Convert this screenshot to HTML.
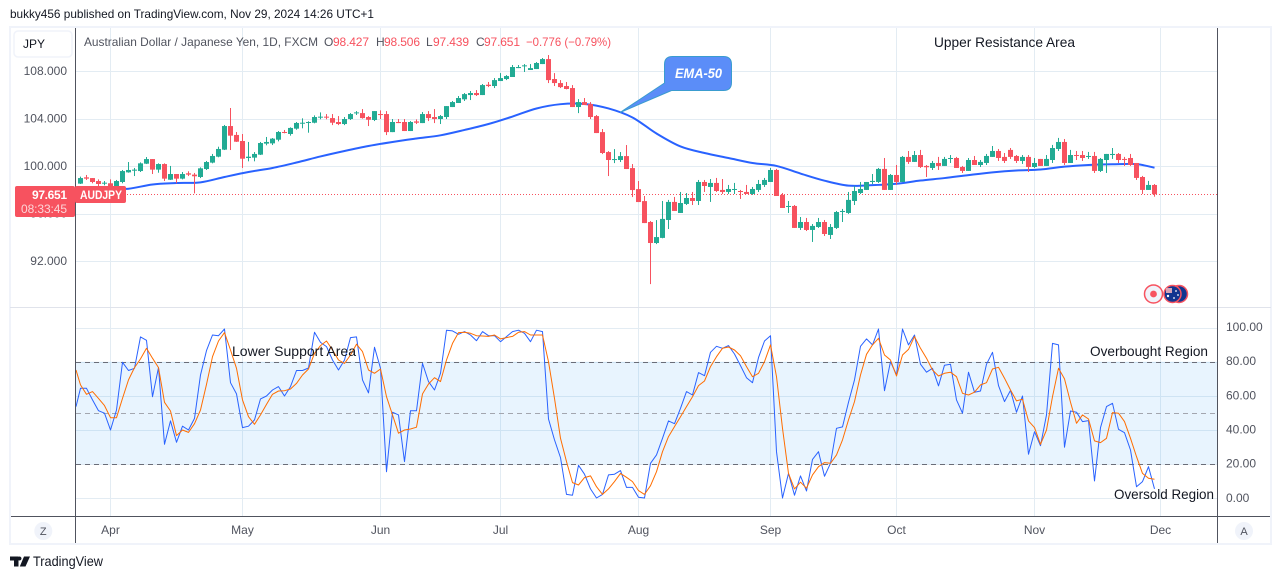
<!DOCTYPE html>
<html lang="en">
<head>
<meta charset="utf-8">
<title>AUD/JPY chart</title>
<style>
html,body{margin:0;padding:0;background:#fff;width:1281px;height:579px;overflow:hidden}
svg{display:block;font-family:"Liberation Sans",Arial,sans-serif}
</style>
</head>
<body>
<svg id="chart" xmlns="http://www.w3.org/2000/svg" width="1281" height="579" viewBox="0 0 1281 579">
  <rect x="0" y="0" width="1281" height="579" fill="#ffffff"/>
  <text x="10" y="18" font-size="12" fill="#131722" textLength="364" lengthAdjust="spacingAndGlyphs">bukky456 published on TradingView.com, Nov 29, 2024 14:26 UTC+1</text>
  <rect x="10" y="27" width="1261" height="517" fill="#ffffff" stroke="#f0f3fa" stroke-width="2"/>

  <g id="grid"></g>
  <rect id="band" x="76" width="1141" fill="#2196f3" fill-opacity="0.1"/>
  <g id="bandLines"></g>
  <g id="oscTicksG"></g>
  <g id="priceTicksG"></g>
  <line id="lastLine" x1="76" x2="1217" stroke="#f7525f" stroke-width="1" stroke-dasharray="1 2"/>
  <g id="emaG"></g>
  <g id="candles"></g>
  <g id="oscLines"></g>

  <line x1="10" x2="1271" y1="307.5" y2="307.5" stroke="#e0e3eb"/>
  <line x1="75.5" x2="75.5" y1="28" y2="543" stroke="#50535e"/>
  <line x1="1217.5" x2="1217.5" y1="28" y2="543" stroke="#50535e"/>
  <line x1="11" x2="1270" y1="516.5" y2="516.5" stroke="#50535e"/>
  <g id="timeG"></g>

  <rect x="14" y="31" width="58" height="26" rx="4" fill="#ffffff" stroke="#f0f3fa" stroke-width="1.5"/>
  <text x="23" y="48" font-size="12" fill="#131722">JPY</text>

  <text x="84" y="46" font-size="12" fill="#50535e" textLength="234" lengthAdjust="spacingAndGlyphs">Australian Dollar / Japanese Yen, 1D, FXCM</text>
  <g font-size="12">
    <text x="324" y="46" fill="#50535e">O</text>
    <text x="333" y="46" fill="#f7525f" textLength="36">98.427</text>
    <text x="376" y="46" fill="#50535e">H</text>
    <text x="384" y="46" fill="#f7525f" textLength="36">98.506</text>
    <text x="426" y="46" fill="#50535e">L</text>
    <text x="433" y="46" fill="#f7525f" textLength="36">97.439</text>
    <text x="476" y="46" fill="#50535e">C</text>
    <text x="484" y="46" fill="#f7525f" textLength="36">97.651</text>
    <text x="526" y="46" fill="#f7525f" textLength="85" lengthAdjust="spacingAndGlyphs">−0.776 (−0.79%)</text>
  </g>

  <text x="934" y="47" font-size="14" fill="#131722" textLength="141" lengthAdjust="spacingAndGlyphs">Upper Resistance Area</text>
  <text x="232" y="356" font-size="14" fill="#131722" textLength="124" lengthAdjust="spacingAndGlyphs">Lower Support Area</text>
  <text x="1090" y="356" font-size="14" fill="#131722" textLength="118" lengthAdjust="spacingAndGlyphs">Overbought Region</text>
  <text x="1114" y="499" font-size="14" fill="#131722" textLength="100" lengthAdjust="spacingAndGlyphs">Oversold Region</text>

  <g>
    <path d="M672.5 56.5H723.5Q731.5 56.5 731.5 64.5V82.5Q731.5 90.5 723.5 90.5H671.5L620 112.5L664.5 83V64.5Q664.5 56.5 672.5 56.5Z" fill="#5b8df8" stroke="#3a9ccf" stroke-width="1"/>
    <text x="675" y="78" font-size="14" font-style="italic" font-weight="bold" fill="#ffffff" textLength="47" lengthAdjust="spacingAndGlyphs">EMA-50</text>
  </g>

  <g>
    <circle cx="1179" cy="294" r="8.5" fill="#12358f" stroke="#f7525f" stroke-width="1.5"/>
    <circle cx="1172.5" cy="294" r="8.5" fill="#12358f" stroke="#f7525f" stroke-width="1.5"/>
    <rect x="1166" y="288" width="6" height="5" fill="#d9a3b5"/>
    <circle cx="1176" cy="291" r="0.9" fill="#ffffff"/>
    <circle cx="1178" cy="295" r="0.9" fill="#ffffff"/>
    <circle cx="1174" cy="298" r="0.9" fill="#ffffff"/>
    <circle cx="1168" cy="296" r="1.2" fill="#ffffff"/>
    <circle cx="1153.5" cy="294" r="9" fill="#f0f3fa" stroke="#f7525f" stroke-width="1.5"/>
    <circle cx="1153.5" cy="294" r="3.4" fill="#f7525f"/>
  </g>

  <g>
    <rect x="15" y="186" width="60" height="31" rx="2" fill="#f7525f"/>
    <rect x="75" y="186" width="51" height="17" rx="2" fill="#f7525f"/>
    <text x="67" y="199" font-size="12" font-weight="bold" fill="#ffffff" text-anchor="end" textLength="35">97.651</text>
    <text x="67" y="213" font-size="12" fill="#fcd5d8" text-anchor="end" textLength="46">08:33:45</text>
    <text x="80" y="199" font-size="11.5" font-weight="bold" fill="#ffffff" textLength="42" lengthAdjust="spacingAndGlyphs">AUDJPY</text>
  </g>

  <g>
    <circle cx="43.3" cy="531" r="9" fill="#f0f3fa"/>
    <text x="43.3" y="535" font-size="11" fill="#50535e" text-anchor="middle">Z</text>
  </g>
  <g>
    <circle cx="1244" cy="531" r="9" fill="#f0f3fa"/>
    <text x="1244" y="535" font-size="11" fill="#50535e" text-anchor="middle">A</text>
  </g>

  <g>
    <path d="M10 556.5H18.5V566.5H14V560.5H10ZM24 556.5H30L25.5 566.5H19.8ZM19.5 556.5A2 2 0 1 1 19.49 556.5Z" fill="#131722"/>
    <text x="33" y="566" font-size="14" fill="#131722" textLength="70" lengthAdjust="spacingAndGlyphs">TradingView</text>
  </g>
</svg>
<script>
const opens=[98.54,99.07,99.01,98.76,98.54,98.57,98.34,98.68,99.49,99.63,
99.60,100.22,100.61,99.72,100.19,98.87,99.35,98.96,99.41,99.30,
99.10,99.77,100.31,100.81,101.40,103.39,102.64,102.13,100.70,100.73,
100.98,101.91,101.93,102.24,102.89,102.72,103.17,103.59,103.65,103.67,
104.10,104.18,104.06,103.73,103.56,103.98,104.46,104.48,104.15,103.90,
104.40,104.40,102.88,103.73,103.73,102.97,103.78,103.64,104.40,104.15,
103.98,104.15,104.99,105.33,105.64,106.00,106.17,106.00,106.87,106.76,
107.18,107.35,107.52,108.27,108.44,108.11,108.19,108.61,109.03,107.35,
107.01,106.76,106.59,104.99,105.41,105.24,104.23,102.88,101.20,100.53,
100.53,100.86,99.85,98.08,97.07,95.31,93.54,93.97,95.48,97.00,
96.07,96.83,97.33,97.08,98.68,98.26,98.60,98.01,97.84,98.01,
97.92,97.84,97.67,98.01,98.43,98.68,99.69,97.59,96.58,96.66,
94.81,95.31,94.64,94.89,95.31,94.22,94.81,96.15,96.07,97.08,
97.75,98.01,98.68,98.68,99.78,98.01,99.27,98.68,100.79,100.37,
100.95,100.03,99.86,100.28,100.03,100.62,100.70,99.94,99.61,100.53,
100.11,100.28,100.79,101.29,100.79,101.38,100.87,100.45,100.79,99.94,
100.62,100.03,100.53,101.46,102.05,100.28,100.95,100.95,100.79,100.87,
99.61,100.53,100.95,101.04,100.62,100.70,100.28,99.10,98.01,98.427];
const highs=[99.13,99.27,99.01,98.90,98.76,98.90,98.85,99.69,100.36,99.86,
100.33,100.78,100.61,100.25,100.25,100.03,99.35,99.52,99.58,99.44,
99.91,100.45,101.04,101.65,103.48,104.91,102.89,102.72,102.05,101.20,
102.05,102.47,102.38,102.97,103.06,103.28,103.73,104.04,103.79,104.29,
104.54,104.40,104.40,104.23,104.15,104.48,104.65,104.82,104.23,104.65,
104.71,104.65,103.98,103.98,103.98,103.81,103.95,104.57,104.65,104.82,
104.32,105.07,105.50,105.92,106.17,106.34,106.42,106.93,107.10,107.43,
107.85,107.68,108.53,108.53,108.61,108.61,108.78,109.12,109.37,107.85,
107.26,107.10,106.84,105.66,105.75,105.41,104.32,103.14,101.28,101.45,
101.20,101.79,100.19,98.76,97.50,95.39,95.47,97.08,97.17,97.42,
97.84,97.75,97.84,98.85,98.85,98.93,99.02,98.93,98.43,98.60,
98.01,98.43,98.26,98.85,99.02,99.86,99.78,97.75,97.08,96.74,
95.73,95.65,95.14,95.65,95.48,95.14,96.24,96.41,97.84,98.34,
98.68,98.68,99.35,99.86,100.70,99.35,100.11,100.87,101.29,101.29,
101.38,100.11,100.45,100.79,100.79,100.95,100.79,100.03,100.70,100.87,
100.53,101.04,101.71,101.46,101.12,101.54,100.95,100.95,100.95,100.70,
100.62,100.95,101.80,102.39,102.30,101.38,101.29,101.29,101.21,101.21,
100.70,101.04,101.54,101.12,100.79,101.04,100.28,99.19,98.77,98.506];
const lows=[98.51,98.85,98.57,98.34,98.40,98.14,98.28,98.57,99.46,99.18,
99.52,100.19,99.35,99.46,98.76,98.85,98.57,98.90,99.18,97.72,
99.01,99.69,100.25,100.76,101.37,101.37,102.05,99.86,100.42,100.42,
100.95,101.77,101.79,102.10,102.78,102.58,103.08,103.20,102.83,103.62,
103.96,103.96,103.47,103.47,103.47,103.90,104.32,104.01,103.39,103.81,
103.98,102.63,102.88,103.64,102.97,102.97,103.56,103.64,103.81,103.64,
103.56,103.98,104.99,105.33,105.50,105.58,105.92,106.00,106.67,106.59,
107.18,107.26,107.52,108.27,107.94,108.11,108.19,108.61,107.01,106.76,
106.59,106.48,104.99,104.48,105.16,103.98,102.80,101.03,99.18,100.27,
100.36,99.77,97.41,96.99,95.22,90.08,93.45,93.94,94.72,96.24,
96.07,96.74,96.74,96.74,97.84,97.00,97.84,97.67,97.67,97.67,
97.25,97.67,97.59,97.84,98.26,98.68,97.50,96.49,96.07,94.81,
94.64,94.55,93.63,94.81,94.13,93.88,94.72,95.31,95.99,96.74,
97.67,98.01,98.51,98.60,98.01,98.01,98.43,98.68,100.20,100.37,
99.86,99.10,99.69,99.69,100.03,100.28,99.86,99.44,99.61,100.11,
99.94,100.11,100.79,100.45,100.28,100.62,100.28,100.20,99.52,99.86,
100.03,100.03,100.28,101.29,100.11,100.28,100.53,100.45,100.62,99.44,
99.52,99.44,100.62,100.28,100.03,100.03,98.85,97.67,98.01,97.439];
const closes=[99.01,98.96,98.68,98.51,98.62,98.34,98.76,99.60,99.69,99.72,
100.25,100.61,99.72,100.19,98.96,99.35,98.96,99.35,99.30,99.16,
99.83,100.36,100.87,101.46,103.39,102.58,102.07,100.64,100.81,101.04,
101.96,102.05,102.33,102.89,102.83,103.23,103.65,103.67,103.73,104.15,
104.18,104.12,103.67,103.56,103.98,104.40,104.54,104.06,103.92,104.65,
104.34,102.88,103.73,103.64,102.97,103.73,103.67,104.40,104.06,103.98,
104.23,105.07,105.41,105.75,106.08,106.17,106.00,106.84,106.76,107.26,
107.43,107.60,108.36,108.36,108.50,108.27,108.70,109.03,107.26,107.01,
106.67,106.51,104.99,105.41,105.16,104.15,102.80,101.12,100.53,100.61,
100.86,99.77,98.00,96.99,95.22,93.54,94.04,95.57,97.00,96.24,
96.91,97.33,97.08,98.68,98.34,98.60,97.92,97.84,98.09,98.09,
97.87,97.67,98.09,98.51,98.85,99.69,97.50,96.49,96.66,94.81,
95.31,94.64,94.98,95.31,94.30,94.89,96.15,96.24,97.17,97.92,
98.09,98.68,98.77,99.78,98.01,99.27,98.68,100.79,100.37,100.95,
99.94,99.92,100.28,100.03,100.62,100.70,99.86,99.61,100.53,100.11,
100.37,100.87,101.29,100.70,100.45,100.79,100.45,100.79,99.94,100.28,
100.03,100.62,101.54,102.05,100.28,100.95,100.90,100.70,100.87,99.61,
100.62,101.04,101.04,100.53,100.56,100.11,99.02,98.01,98.43,97.651];
const emaBars=[0,4,8,12,16,20,24,28,32,36,40,44,48,52,56,60,64,68,72,76,80,84,88,92,96,100,104,108,112,116,120,124,128,132,136,140,144,148,152,156,160,164,168,172,176,179];
const emaValues=[98.00,98.05,98.11,98.47,98.59,98.65,99.10,99.52,99.86,100.32,100.83,101.29,101.71,102.05,102.34,102.61,103.06,103.56,104.19,104.87,105.23,105.25,104.87,104.11,102.76,101.67,101.12,100.70,100.28,100.03,99.39,98.79,98.37,98.41,98.53,98.80,99.01,99.26,99.49,99.65,99.73,99.97,100.11,100.17,100.18,99.88];
const stochK=[53.7,64.4,64.4,57.6,51.3,49.8,40.0,51.7,79.6,74.8,76.1,
94.5,92.5,59.5,76.5,31.6,45.3,32.8,42.2,40.0,46.8,
72.2,86.5,95.6,95.2,99.1,67.7,61.1,41.4,42.2,45.9,
58.2,59.9,63.4,65.4,59.9,65.4,74.8,74.8,76.3,97.2,
91.3,88.8,81.0,75.1,81.0,94.1,94.5,69.3,61.7,88.4,
76.1,15.6,50.4,48.8,21.5,51.3,51.3,79.0,68.3,63.4,
73.2,98.4,98.0,96.0,97.6,95.6,92.3,97.6,95.2,95.2,
91.7,94.7,97.6,98.4,96.6,91.7,98.4,97.6,46.4,34.2,
23.8,2.3,1.8,19.3,14.1,5.5,0.2,2.3,13.7,14.1,
16.2,6.4,6.4,0.6,0.2,20.5,25.4,35.1,45.3,43.7,
52.7,62.5,60.5,73.6,71.8,85.5,89.0,87.8,89.4,84.5,
77.7,70.6,67.7,82.4,92.1,95.2,27.3,0.2,14.6,1.8,
13.1,4.3,22.8,27.3,12.9,20.5,41.0,41.8,56.2,69.3,
89.0,93.3,89.8,99.1,63.0,80.0,72.2,99.1,89.8,95.6,
78.5,73.8,76.1,65.8,77.9,78.5,57.6,49.8,73.8,62.1,
62.8,78.5,85.5,66.0,56.6,63.2,50.4,59.9,25.8,39.0,
30.8,48.8,90.7,89.8,29.9,51.1,50.4,44.9,45.5,10.1,
41.4,53.7,55.6,40.4,38.4,28.3,6.8,9.8,18.5,5.5];
const stochD=[75.1,66.4,60.9,62.5,58.5,54.3,47.2,47.2,58.5,69.3,76.5,
81.6,87.8,82.0,76.5,56.2,51.1,36.7,40.0,38.6,43.7,
51.7,66.7,82.9,92.1,97.0,86.8,76.1,57.6,47.8,43.3,
48.8,55.0,60.9,62.8,63.0,64.0,67.3,72.2,75.7,84.9,
89.4,92.1,86.8,81.0,79.0,83.9,90.2,85.9,75.1,73.2,
75.7,59.5,48.8,38.1,40.0,40.6,41.6,61.1,66.9,70.6,
68.3,81.0,90.7,97.0,97.2,96.6,95.2,95.0,94.8,95.6,
93.3,94.1,94.8,97.2,97.6,95.6,95.6,95.6,80.0,58.5,
35.1,21.5,9.2,7.8,12.1,13.1,6.8,2.3,5.5,9.8,
14.6,12.3,9.8,4.5,2.3,7.4,15.6,27.3,36.1,42.0,
47.8,53.7,59.5,66.0,68.7,77.1,82.9,87.8,88.6,86.8,
83.5,77.1,71.2,73.2,80.0,89.8,71.2,41.0,14.6,5.5,
9.4,5.9,13.7,18.5,20.9,20.5,25.4,34.2,45.9,56.6,
72.2,84.3,89.8,93.7,83.9,81.0,71.6,83.9,87.2,94.7,
87.8,82.0,75.1,71.6,73.2,73.8,71.2,61.5,60.5,62.1,
66.4,67.7,75.7,76.7,70.3,63.4,57.0,58.0,45.3,41.4,
31.6,40.0,59.5,76.1,69.9,56.2,43.9,48.8,46.4,33.6,
32.6,35.1,50.2,49.8,44.9,35.1,24.4,14.6,11.7,11.1];
const priceTicks=[108,104,100,96,92];
const oscTicks=[100,80,60,40,20,0];
const bandLevels=[80,50,20];
const monthLabels=["Apr","May","Jun","Jul","Aug","Sep","Oct","Nov","Dec"];
const monthBars=[5,27,50,70,93,115,136,159,180];
const lastPrice=97.651;

const NS="http://www.w3.org/2000/svg";
const xBar=i=>80.5+6*i;
const yPrice=p=>166.3-(p-100)*11.875;
const yOsc=v=>498.3-v*1.708;
function make(tag,attrs,parent){
  const node=document.createElementNS(NS,tag);
  for(const k in attrs){node.setAttribute(k,attrs[k]);}
  parent.appendChild(node);
  return node;
}
function smoothPath(pts){
  let d="M"+pts[0][0]+" "+pts[0][1].toFixed(2);
  for(let k=0;k<pts.length-1;k++){
    const p0=pts[k-1]||pts[k],p1=pts[k],p2=pts[k+1],p3=pts[k+2]||pts[k+1];
    const c1x=p1[0]+(p2[0]-p0[0])/6,c1y=p1[1]+(p2[1]-p0[1])/6;
    const c2x=p2[0]-(p3[0]-p1[0])/6,c2y=p2[1]-(p3[1]-p1[1])/6;
    d+="C"+c1x.toFixed(2)+" "+c1y.toFixed(2)+" "+c2x.toFixed(2)+" "+c2y.toFixed(2)+" "+p2[0]+" "+p2[1].toFixed(2);
  }
  return d;
}
const GRID="#e3ecf3";
const gridG=document.getElementById("grid");
monthBars.forEach(b=>{
  const el=make("line",{x1:xBar(b),x2:xBar(b),y1:28,y2:516,stroke:GRID},gridG);
  
  
});
priceTicks.forEach(t=>{
  const y=Math.round(yPrice(t))+0.5;
  const el=make("line",{x1:76,x2:1217,y1:y,y2:y,stroke:GRID},gridG);
  
  
});
oscTicks.forEach(t=>{
  const y=Math.round(yOsc(t))+0.5;
  const el=make("line",{x1:76,x2:1217,y1:y,y2:y,stroke:GRID},gridG);
  
  
});
const band=document.getElementById("band");
band.setAttribute("y",yOsc(bandLevels[0]));
band.setAttribute("height",yOsc(bandLevels[2])-yOsc(bandLevels[0]));
const bandLinesG=document.getElementById("bandLines");
bandLevels.forEach(l=>{
  const y=Math.round(yOsc(l))+0.5;
  const el=make("line",{x1:76,x2:1217,y1:y,y2:y,stroke:l===50?"#a3a6af":"#6a6d78","stroke-dasharray":"5 4"},bandLinesG);
  
  
});
const priceTicksG=document.getElementById("priceTicksG");
priceTicks.forEach(t=>{
  const el=make("text",{x:67,y:yPrice(t)+3.7,"font-size":12,fill:"#50535e","text-anchor":"end"},priceTicksG);
  el.textContent=t.toFixed(3);
  
  
});
const oscTicksG=document.getElementById("oscTicksG");
oscTicks.forEach(t=>{
  const el=make("text",{x:1226,y:yOsc(t)+3.5,"font-size":12,fill:"#50535e"},oscTicksG);
  el.textContent=t.toFixed(2);
  
  
});
const timeG=document.getElementById("timeG");
monthLabels.forEach((m,k)=>{
  const el=make("text",{x:xBar(monthBars[k]),y:534,"font-size":12,fill:"#50535e","text-anchor":"middle"},timeG);
  el.textContent=m;
  
  
});
const lastLine=document.getElementById("lastLine");
lastLine.setAttribute("y1",Math.round(yPrice(lastPrice))+0.5);
lastLine.setAttribute("y2",Math.round(yPrice(lastPrice))+0.5);

const emaPts=emaBars.map((b,k)=>[xBar(b),yPrice(emaValues[k])]);
const emaLine=make("path",{d:smoothPath(emaPts),fill:"none",stroke:"#2962ff","stroke-width":2,"stroke-linejoin":"round"},document.getElementById("emaG"));



const candlesG=document.getElementById("candles");
opens.forEach((o,i)=>{
  const c=closes[i];
  const col=c>=o?"#22ab94":"#f7525f";
  const x=xBar(i);
  const top=yPrice(Math.max(o,c));
  const bot=yPrice(Math.min(o,c));
  const wick=make("rect",{x:x-0.5,y:yPrice(highs[i]),width:1,height:Math.max(1,yPrice(lows[i])-yPrice(highs[i])),fill:col},candlesG);
  
  
  const body=make("rect",{x:x-2.5,y:top,width:5,height:Math.max(1,bot-top),fill:col},candlesG);
  
  
});

const oscLinesG=document.getElementById("oscLines");
function stochLine(values,color,name){
  const start=-1;
  const pts=values.map((v,k)=>Math.max(76,xBar(k+start))+","+yOsc(v).toFixed(1)).join(" ");
  const el=make("polyline",{points:pts,fill:"none",stroke:color,"stroke-width":1,"stroke-linejoin":"round"},oscLinesG);
  
  
}
stochLine(stochK,"#2962ff","stochastic-k-line");
stochLine(stochD,"#ff6d00","stochastic-d-line");
</script>
</body>
</html>
